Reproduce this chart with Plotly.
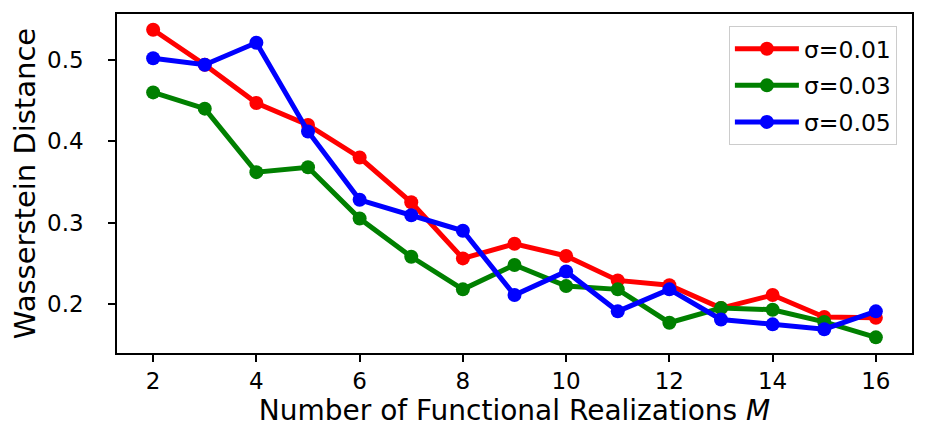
import plotly.graph_objects as go

M = list(range(2, 17))
sigma_001 = [0.537, 0.494, 0.447, 0.420, 0.380, 0.325, 0.256, 0.274, 0.259, 0.229, 0.223, 0.195, 0.211, 0.184, 0.183]
sigma_003 = [0.460, 0.440, 0.362, 0.368, 0.305, 0.258, 0.218, 0.248, 0.222, 0.218, 0.177, 0.195, 0.193, 0.178, 0.159]
sigma_005 = [0.502, 0.494, 0.521, 0.412, 0.328, 0.309, 0.290, 0.211, 0.240, 0.191, 0.218, 0.181, 0.175, 0.169, 0.191]
series_names = ["σ=0.01", "σ=0.03", "σ=0.05"]
colors = ["#ff0000", "#008000", "#0000ff"]

FONT = "DejaVu Sans"
fig = go.Figure()
for i, (name, vals, c) in enumerate(zip(series_names, [sigma_001, sigma_003, sigma_005], colors)):
    fig.add_trace(go.Scatter(x=M, y=vals, name=name, mode="lines+markers", legendgroup=f"g{i}",
                             line=dict(color=c, width=5), marker=dict(color=c, size=14)))

axis_common = dict(showline=True, linecolor="black", linewidth=1.5, mirror=True,
                   ticks="outside", ticklen=7, tickwidth=1.5, tickcolor="black",
                   showgrid=False, zeroline=False, automargin=False,
                   tickfont=dict(family=FONT, size=23, color="black"))
fig.update_xaxes(range=[1.3, 16.7], tickvals=[2, 4, 6, 8, 10, 12, 14, 16],
                 title=dict(text="Number of Functional Realizations <i>M</i>",
                            font=dict(family=FONT, size=28, color="black"), standoff=4),
                 **axis_common)
fig.update_yaxes(range=[0.1398, 0.5563], tickvals=[0.2, 0.3, 0.4, 0.5],
                 ticklabelstandoff=20,
                 title=dict(text="Wasserstein Distance",
                            font=dict(family=FONT, size=29, color="black"), standoff=7),
                 **axis_common)
fig.update_layout(
    width=927, height=442,
    margin=dict(l=109, r=23, t=6, b=97),
    plot_bgcolor="white", paper_bgcolor="white",
    font=dict(family=FONT, color="black"),
    legend=dict(x=0.981, xanchor="right", y=0.9646, yanchor="top",
                bordercolor="#cccccc", borderwidth=1, bgcolor="white",
                font=dict(family=FONT, size=23.5, color="black"), itemwidth=64,
                tracegroupgap=3),
    showlegend=True,
)
fig.write_html("out.html")
